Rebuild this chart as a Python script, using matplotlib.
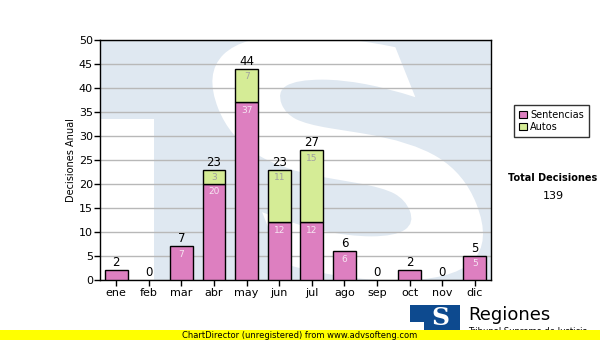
import matplotlib
matplotlib.use('Agg')
import matplotlib.pyplot as plt
from matplotlib.patches import Rectangle, PathPatch
from matplotlib.textpath import TextPath
from matplotlib.font_manager import FontProperties
from matplotlib.transforms import Affine2D
import numpy as np

# data
months = ['ene', 'feb', 'mar', 'abr', 'may', 'jun', 'jul', 'ago', 'sep', 'oct', 'nov', 'dic']
sentencias = [2, 0, 7, 20, 37, 12, 12, 6, 0, 2, 0, 5]
autos = [0, 0, 0, 3, 7, 11, 15, 0, 0, 0, 0, 0]
series_names = ['Sentencias', 'Autos']

pink = '#dd7fc0'
green = '#d5ec96'
wm_blue = '#dfe8f1'

fig = plt.figure(figsize=(6, 3.4), dpi=100)
fig.patch.set_facecolor('white')
ax = fig.add_axes([100/600, 60/340, 391/600, 240/340])

x = np.arange(len(months))
ax.set_xlim(-0.5, len(months) - 0.5)
ax.set_ylim(0, 50)

# ── watermark "TS" logo behind the bars ──────────────────────────────────────
ax.set_facecolor(wm_blue)
ax.add_patch(Rectangle((0, 0), 0.138, 0.67, transform=ax.transAxes,
                       facecolor='white', edgecolor='none', zorder=0))
tp = TextPath((0, 0), 'S', size=1, prop=FontProperties(family='DejaVu Sans', weight='bold'))
ext = tp.get_extents()
W, H = 220, 245            # glyph size in axes pixels
cx, cy = 248, 122          # glyph centre in axes pixels
tr = (Affine2D().translate(-ext.x0 - ext.width / 2, -ext.y0 - ext.height / 2)
      .scale(W / ext.width, H / ext.height)
      .skew(np.arctan(-0.4), 0)
      .translate(cx, cy)
      .scale(1 / 391, 1 / 240))
s_patch = PathPatch(tr.transform_path(tp), transform=ax.transAxes,
                    facecolor='white', edgecolor='none', zorder=0)
ax.add_patch(s_patch)
s_patch.set_clip_path(ax.patch)

ax.yaxis.grid(True, color='#b8b8b8', lw=1.0, zorder=1)
ax.set_axisbelow(True)

totals = [s + a for s, a in zip(sentencias, autos)]
b1 = ax.bar(x, sentencias, width=0.7, color=pink, edgecolor='black', lw=1.0, zorder=3)
b2 = ax.bar(x, autos, width=0.7, bottom=sentencias, color=green, edgecolor='black', lw=1.0,
            zorder=3)
for i in range(len(months)):
    if sentencias[i] == 0:
        b1[i].set_visible(False)
    if autos[i] == 0:
        b2[i].set_visible(False)

# values inside segments (only where they fit) and totals on top
for i, (s, a) in enumerate(zip(sentencias, autos)):
    if s >= 3:
        ax.text(x[i], s - 0.7, str(s), ha='center', va='top', fontsize=6.5,
                color='#f6e6f2', zorder=4)
    if a >= 3:
        ax.text(x[i], s + a - 0.7, str(a), ha='center', va='top', fontsize=6.5,
                color='#a0a0a0', zorder=4)
    ax.text(x[i], totals[i] + 0.2, str(totals[i]), ha='center', va='bottom',
            fontsize=8.5, color='black', zorder=4)

ax.set_xticks(x)
ax.set_xticklabels(months, fontsize=8)
ax.set_yticks(range(0, 51, 5))
ax.tick_params(axis='y', labelsize=8, length=4, width=1, pad=1)
ax.tick_params(axis='x', length=4, width=1, pad=2)
for sp in ax.spines.values():
    sp.set_color('black')
    sp.set_linewidth(1.0)
ax.set_ylabel('Decisiones Anual', fontsize=7, labelpad=2)

# legend
handles = [Rectangle((0, 0), 1, 1, facecolor=pink, edgecolor='black', lw=0.8),
           Rectangle((0, 0), 1, 1, facecolor=green, edgecolor='black', lw=0.8)]
leg = fig.legend(handles=handles, labels=series_names, loc='upper left',
                 bbox_to_anchor=(509/600, 1 - 100/340), fontsize=7, frameon=True,
                 fancybox=False, edgecolor='black', handlelength=0.8, handleheight=0.8,
                 handletextpad=0.4, borderpad=0.5, labelspacing=0.2)
leg.get_frame().set_linewidth(1.0)

fig.text(553/600, 1 - 178/340, 'Total Decisiones', fontsize=7, fontweight='bold',
         ha='center', va='center')
fig.text(553/600, 1 - 196/340, str(sum(totals)), fontsize=8, ha='center', va='center')

# ── logo bottom right ────────────────────────────────────────────────────────
fig.patches.append(Rectangle((410/600, 1 - 331/340), 50/600, 26/340,
                             transform=fig.transFigure, facecolor='#0d4a8f',
                             edgecolor='none'))
fig.patches.append(Rectangle((410/600, 1 - 331/340), 14/600, 9/340,
                             transform=fig.transFigure, facecolor='white',
                             edgecolor='none'))
fig.text(440/600, 1 - 318/340, 'S', fontsize=18, fontweight='bold',
         fontfamily='DejaVu Serif', color='white', ha='center', va='center')
fig.text(468/600, 1 - 315/340, 'Regiones', fontsize=13, ha='left', va='center')
fig.text(468/600, 1 - 332/340, 'Tribunal Supremo de Justicia', fontsize=6,
         ha='left', va='center', zorder=3)

# unregistered banner
fig.patches.append(Rectangle((0, 0), 1, 10/340, transform=fig.transFigure,
                             facecolor='#ffff00', edgecolor='none', zorder=5))
fig.text(0.5, 5/340, 'ChartDirector (unregistered) from www.advsofteng.com',
         fontsize=6, ha='center', va='center', zorder=6)

fig.savefig('out.png', dpi=100, facecolor='white')
